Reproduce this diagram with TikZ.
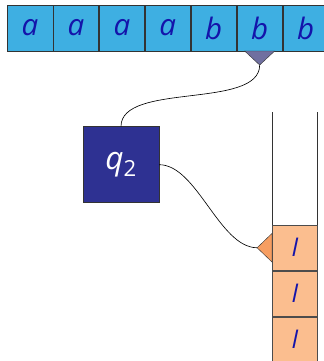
\documentclass[tikz,border=0pt]{standalone}
\usepackage{fontspec}
\setsansfont{Open Sans}
\usepackage{tikz}
\usepackage{xcolor}
\usetikzlibrary{positioning, calc}
\definecolor{cTape}{RGB}{62,175,226}
\definecolor{cHead}{RGB}{112,112,160}
\definecolor{cState}{RGB}{46,49,146}
\definecolor{cStack}{RGB}{251,190,143}
\definecolor{cTip}{RGB}{246,158,98}
\definecolor{cSym}{RGB}{20,20,170}
\tikzset{
	tcell/.style={rectangle, draw=black!80, fill=cTape, minimum size=1.517cm, inner sep=0pt, text=cSym, font=\fontsize{28}{28}\selectfont\sffamily\itshape},
	scell/.style={rectangle, draw=black!70, fill=cStack, minimum width=1.5cm, minimum height=1.517cm, inner sep=0pt, text=cSym, font=\fontsize{23}{23}\selectfont\sffamily\itshape},
	state/.style={rectangle, draw=black!80, fill=cState, minimum size=2.533cm, inner sep=0pt, text=white, font=\fontsize{30}{30}\selectfont\sffamily\itshape},
	link/.style={line width=0.6pt, black, looseness=0.75},
}
\begin{document}
\begin{tikzpicture}
	\useasboundingbox (0,0) rectangle (10.767,-12.033);
	% input tape
	\node[tcell] (t1) at (1.0,-0.935) {a};
	\node[tcell, right=0pt of t1] (t2) {a};
	\node[tcell, right=0pt of t2] (t3) {a};
	\node[tcell, right=0pt of t3] (t4) {a};
	\node[tcell, right=0pt of t4] (t5) {b};
	\node[tcell, right=0pt of t5] (t6) {b};
	\node[tcell, right=0pt of t6] (t7) {b};
	% reading head
	\filldraw[fill=cHead, draw=black!80] ($(t6.south)+(-0.5,0)$) -- ($(t6.south)+(0,-0.467)$) coordinate (hd) -- ($(t6.south)+(0.5,0)$) -- cycle;
	% control state
	\node[state] (q) at (4.033,-5.49) {q\textsubscript{\upshape 2}};
	% stack
	\node[scell] (s1) at (9.827,-8.258) {l};
	\node[scell, below=0pt of s1] (s2) {l};
	\node[scell, below=0pt of s2] (s3) {l};
	\draw[black!80] (s1.north west) -- ++(0,3.758) coordinate (sl);
	\draw[black!80] (s1.north east) -- ++(0,3.758) coordinate (sr);
	\filldraw[fill=cTip, draw=black!80] ($(s1.west)+(0,0.48)$) -- ($(s1.west)+(-0.5,0)$) coordinate (st) -- ($(s1.west)+(0,-0.48)$) -- cycle;
	% connections
	\draw[link] (hd) to[out=-90, in=90] (q.north);
	\draw[link] (q.east) to[out=0, in=180] (st);
\end{tikzpicture}
\end{document}
